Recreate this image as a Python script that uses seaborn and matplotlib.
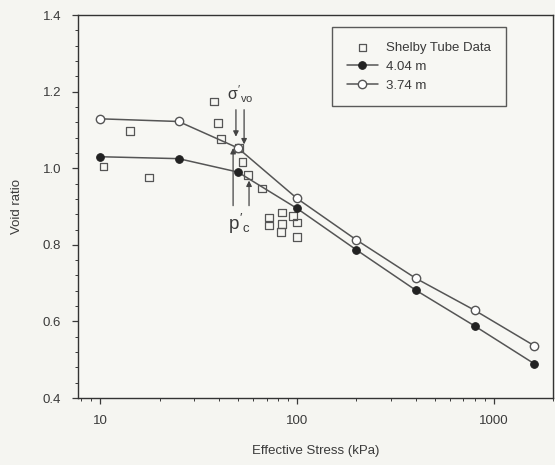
import matplotlib
matplotlib.use('Agg')
import matplotlib.pyplot as plt
import matplotlib.ticker as mticker
import seaborn as sns
import pandas as pd

# consolidation test curves (effective stress in kPa, void ratio)
stress = [10, 25, 50, 100, 200, 400, 800, 1600]
e_404 = [1.030, 1.025, 0.990, 0.895, 0.787, 0.682, 0.588, 0.490]
e_374 = [1.129, 1.122, 1.053, 0.921, 0.813, 0.713, 0.629, 0.537]

# Shelby tube samples
shelby_stress = [10.4, 14.2, 17.7, 37.9, 39.7, 41.1, 50.8, 52.7, 56.5, 66.3,
                 72.0, 72.0, 83.6, 83.6, 82.6, 95.3, 100, 100]
shelby_e = [1.005, 1.097, 0.976, 1.174, 1.118, 1.076, 1.053, 1.016, 0.982, 0.947,
            0.871, 0.850, 0.884, 0.855, 0.834, 0.876, 0.858, 0.821]

ink = '#3a3a3a'
line_col = '#555555'

sns.set_style('ticks')
plt.rcParams['font.family'] = ['Liberation Sans', 'DejaVu Sans']
plt.rcParams['mathtext.fontset'] = 'custom'
plt.rcParams['mathtext.rm'] = 'Liberation Sans'
plt.rcParams['mathtext.it'] = 'Liberation Sans'
plt.rcParams['text.color'] = ink
plt.rcParams['axes.labelcolor'] = ink
plt.rcParams['xtick.color'] = ink
plt.rcParams['ytick.color'] = ink

fig = plt.figure(figsize=(5.55, 4.65), dpi=100, facecolor='#f5f5f1')
ax = fig.add_axes([0.1405, 0.144, 0.856, 0.8237])
ax.set_facecolor('#f7f7f3')

shelby = pd.DataFrame({'stress': shelby_stress, 'e': shelby_e})
sns.scatterplot(data=shelby, x='stress', y='e', ax=ax, marker='s', s=30,
                facecolor='none', edgecolor=line_col, linewidth=0.9,
                label='Shelby Tube Data', zorder=3)

d1 = pd.DataFrame({'stress': stress, 'e': e_404})
sns.lineplot(data=d1, x='stress', y='e', ax=ax, color=line_col, lw=1.1,
             marker='o', markersize=5.5, markerfacecolor='#222222',
             markeredgecolor='#222222', label='4.04 m', zorder=4)

d2 = pd.DataFrame({'stress': stress, 'e': e_374})
sns.lineplot(data=d2, x='stress', y='e', ax=ax, color=line_col, lw=1.1,
             marker='o', markersize=6, markerfacecolor='white',
             markeredgecolor=line_col, markeredgewidth=1.0,
             label='3.74 m', zorder=4)

ax.set_xscale('log')
ax.set_xlim(7.7, 2000)
ax.set_ylim(0.4, 1.4)
ax.xaxis.set_major_locator(mticker.FixedLocator([10, 100, 1000]))
ax.xaxis.set_major_formatter(mticker.FormatStrFormatter('%d'))
ax.xaxis.set_minor_locator(mticker.LogLocator(base=10, subs=range(2, 10)))
ax.xaxis.set_minor_formatter(mticker.NullFormatter())
ax.yaxis.set_major_locator(mticker.MultipleLocator(0.2))
ax.yaxis.set_major_formatter(mticker.FormatStrFormatter('%.1f'))
ax.yaxis.set_minor_locator(mticker.MultipleLocator(0.04))
ax.tick_params(which='major', length=4, width=0.9, labelsize=9.5, pad=8)
ax.tick_params(which='minor', length=2.5, width=0.7)
for sp in ax.spines.values():
    sp.set_color('#333333')
    sp.set_linewidth(1.0)

ax.set_xlabel('Effective Stress (kPa)', fontsize=9.5, labelpad=13)
ax.set_ylabel('Void ratio', fontsize=9.5, labelpad=14)

# sigma'_vo and p'_c markers
arr = dict(arrowstyle='-|>', color='#444444', lw=0.9, mutation_scale=8)
ax.annotate('', xy=(48.9, 1.075), xytext=(48.9, 1.16), arrowprops=arr)
ax.annotate('', xy=(53.8, 1.055), xytext=(53.8, 1.16), arrowprops=arr)
ax.annotate('', xy=(47.3, 1.06), xytext=(47.3, 0.895), arrowprops=arr)
ax.annotate('', xy=(57.0, 0.975), xytext=(57.0, 0.895), arrowprops=arr)
ax.text(51.5, 1.165, r"$\sigma'_{vo}$", fontsize=11.5, ha='center', va='bottom')
ax.text(51.0, 0.885, r"$p'_{c}$", fontsize=13.5, ha='center', va='top')

leg = ax.legend(loc='upper left', bbox_to_anchor=(0.535, 0.968), frameon=True,
                fancybox=False, edgecolor='#333333', fontsize=9.5,
                handlelength=2.4, handletextpad=0.6, borderpad=1.1,
                labelspacing=0.5, borderaxespad=0)
leg.get_frame().set_linewidth(1.0)
leg.get_frame().set_facecolor('#f7f7f3')

fig.savefig('out.png', dpi=100, facecolor=fig.get_facecolor())
